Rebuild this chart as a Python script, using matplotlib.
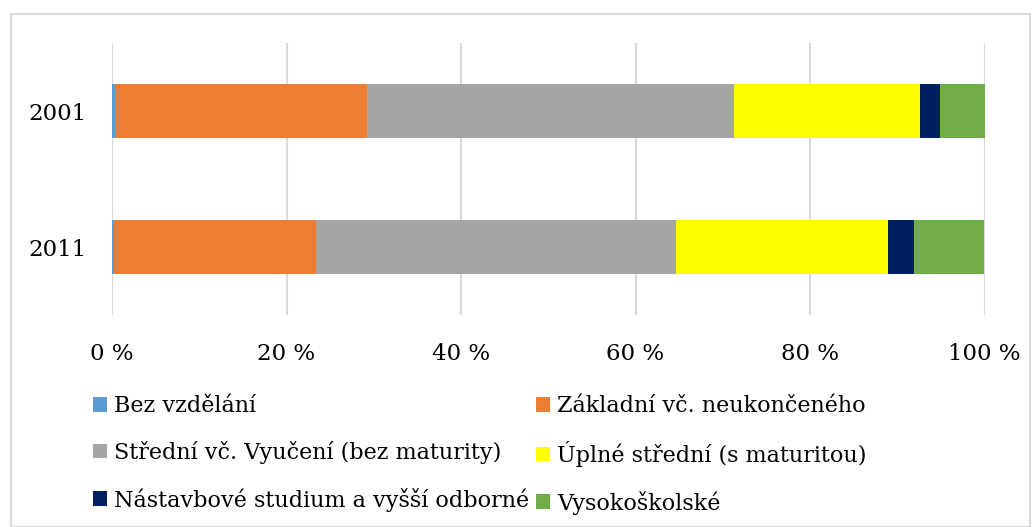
import matplotlib
matplotlib.use("Agg")
import matplotlib.pyplot as plt
from matplotlib.patches import Rectangle, Patch

plt.rcParams['font.family'] = ['DejaVu Serif']

years = ["2011", "2001"]
categories = [
    "Bez vzdělání",
    "Základní vč. neukončeného",
    "Střední vč. Vyučení (bez maturity)",
    "Úplné střední (s maturitou)",
    "Nástavbové studium a vyšší odborné",
    "Vysokoškolské",
]
# podíly v %, pořadí jako years
bez = [0.2, 0.3]
zakladni = [23.2, 28.95]
stredni = [41.2, 42.0]
uplne = [24.3, 21.4]
nastavbove = [3.0, 2.3]
vysoke = [8.1, 5.05]
colors = ["#5b9bd5", "#ed7d31", "#a5a5a5", "#ffff00", "#002060", "#70ad47"]

series = [bez, zakladni, stredni, uplne, nastavbove, vysoke]

fig = plt.figure(figsize=(10.35, 5.27), dpi=100)
ax = fig.add_axes([112/1035, 1 - 315/527, 872.5/1035, 272/527])

left = [0.0, 0.0]
for vals, col, name in zip(series, colors, categories):
    ax.barh(range(len(years)), vals, left=left, height=0.4, color=col,
            label=name, zorder=3)
    left = [a + b for a, b in zip(left, vals)]

ax.set_xlim(0, 100)
ax.set_ylim(-0.5, 1.5)
ax.set_xticks(range(0, 101, 20))
ax.set_xticklabels([f"{v} %" for v in range(0, 101, 20)])
ax.set_yticks(range(len(years)))
ax.set_yticklabels(years)
ax.tick_params(axis="both", length=0, labelsize=16.5)
ax.tick_params(axis="x", pad=20)
ax.tick_params(axis="y", pad=18.5)
ax.grid(axis="x", color="#d9d9d9", linewidth=1.5, zorder=0)
for s in ax.spines.values():
    s.set_visible(False)

# legenda po řádcích -> přeskládat pro sloupce
handles = [Patch(facecolor=c) for c in colors]
order = [0, 2, 4, 1, 3, 5]
fig.legend([handles[i] for i in order], [categories[i] for i in order],
           loc="upper left", bbox_to_anchor=(93/1035, 1 - 395/527),
           ncol=2, frameon=False, fontsize=16, borderpad=0, borderaxespad=0,
           handlelength=0.65, handleheight=0.65, handletextpad=0.3,
           labelspacing=1.07, columnspacing=0.3)

fig.patches.append(Rectangle((11/1035, 0), 1019/1035, 1 - 14/527,
                             transform=fig.transFigure, fill=False,
                             edgecolor="#d9d9d9", linewidth=1.5))

fig.savefig("out.png", dpi=100)
